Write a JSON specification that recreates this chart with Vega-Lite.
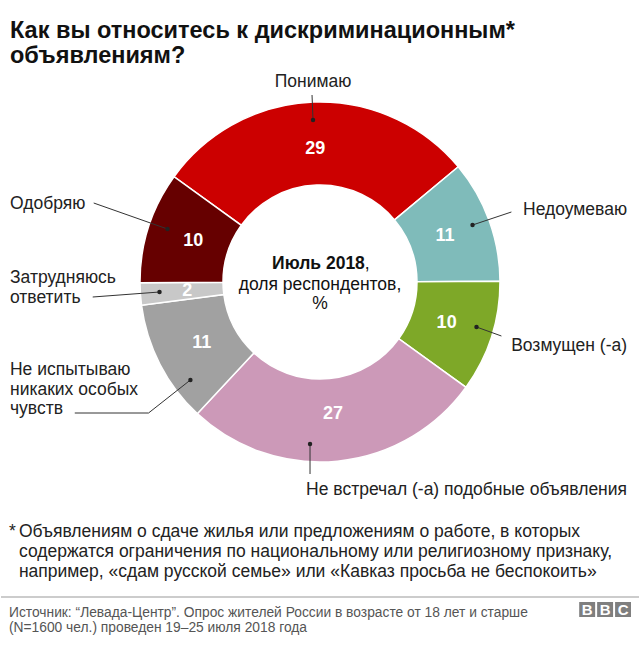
{
  "$schema": "https://vega.github.io/schema/vega-lite/v6.json",
  "width": 640,
  "height": 645,
  "padding": 0,
  "autosize": {"type": "fit", "contains": "padding"},
  "background": "white",
  "config": {"view": {"stroke": null}, "text": {"font": "Liberation Sans"}},
  "datasets": {
    "segments": [
      {"cat": "Понимаю", "value": 29, "ord": 1},
      {"cat": "Недоумеваю", "value": 11, "ord": 2},
      {"cat": "Возмущен (-а)", "value": 10, "ord": 3},
      {"cat": "Не встречал (-а) подобные объявления", "value": 27, "ord": 4},
      {"cat": "Не испытываю никаких особых чувств", "value": 11, "ord": 5},
      {"cat": "Затрудняюсь ответить", "value": 2, "ord": 6},
      {"cat": "Одобряю", "value": 10, "ord": 7}
    ],
    "labelsLeft": [
      {"t": ["Одобряю"], "x": 9, "y": 209},
      {"t": ["Затрудняюсь", "ответить"], "x": 9, "y": 283},
      {"t": ["Не испытываю", "никаких особых", "чувств"], "x": 9, "y": 375}
    ],
    "labelsRight": [
      {"t": ["Недоумеваю"], "x": 628, "y": 215},
      {"t": ["Возмущен (-а)"], "x": 628, "y": 351},
      {"t": ["Не встречал (-а) подобные объявления"], "x": 628, "y": 495}
    ],
    "labelsCenter": [
      {"t": ["Понимаю"], "x": 313, "y": 87}
    ],
    "leaders": [
      {"id": "a", "s": 1, "x": 312, "y": 95}, {"id": "a", "s": 2, "x": 313, "y": 120},
      {"id": "b", "s": 1, "x": 512, "y": 212}, {"id": "b", "s": 2, "x": 473, "y": 225},
      {"id": "c", "s": 1, "x": 502, "y": 336}, {"id": "c", "s": 2, "x": 477, "y": 327},
      {"id": "d", "s": 1, "x": 310, "y": 474}, {"id": "d", "s": 2, "x": 310, "y": 444},
      {"id": "e", "s": 1, "x": 74, "y": 413}, {"id": "e", "s": 2, "x": 148, "y": 413}, {"id": "e", "s": 3, "x": 190, "y": 380},
      {"id": "f", "s": 1, "x": 92, "y": 297}, {"id": "f", "s": 2, "x": 159, "y": 292},
      {"id": "g", "s": 1, "x": 93, "y": 203}, {"id": "g", "s": 2, "x": 167, "y": 229}
    ],
    "dots": [
      {"x": 313, "y": 120}, {"x": 473, "y": 225}, {"x": 477, "y": 327}, {"x": 310, "y": 444},
      {"x": 190, "y": 380}, {"x": 159, "y": 292}, {"x": 167, "y": 229}
    ],
    "title": [
      {"t": "Как вы относитесь к дискриминационным*", "x": 9, "y": 38},
      {"t": "объявлениям?", "x": 9, "y": 63}
    ],
    "centerBold": [{"t": "Июль 2018", "x": 365, "y": 269}],
    "centerReg": [
      {"t": ",", "x": 365, "y": 269, "a": "l"},
      {"t": "доля респондентов,", "x": 320, "y": 290, "a": "c"},
      {"t": "%", "x": 320, "y": 309, "a": "c"}
    ],
    "footnote": [
      {"t": "*", "x": 8, "y": 537},
      {"t": "Объявлениям о сдаче жилья или предложениям о работе, в которых", "x": 18, "y": 537},
      {"t": "содержатся ограничения по национальному или религиозному признаку,", "x": 18, "y": 557},
      {"t": "например, «сдам русской семье» или «Кавказ просьба не беспокоить»", "x": 18, "y": 577}
    ],
    "source": [
      {"t": "Источник: “Левада-Центр”. Опрос жителей России в возрасте от 18 лет и старше", "x": 8, "y": 617},
      {"t": "(N=1600 чел.) проведен 19–25 июля 2018 года", "x": 8, "y": 632}
    ],
    "sep": [{"x": 0, "x2": 640, "y": 597}],
    "bbcBoxes": [
      {"x": 580, "x2": 596, "y": 602, "y2": 617, "t": "B", "cx": 588},
      {"x": 598, "x2": 614, "y": 602, "y2": 617, "t": "B", "cx": 606},
      {"x": 616, "x2": 632, "y": 602, "y2": 617, "t": "C", "cx": 624}
    ]
  },
  "layer": [
    {
      "data": {"name": "segments"},
      "mark": {"type": "arc", "outerRadius": 180, "innerRadius": 97, "stroke": "white", "strokeWidth": 1.5},
      "encoding": {
        "x": {"datum": 320, "type": "quantitative", "scale": {"domain": [0, 640], "nice": false, "zero": false}, "axis": null},
        "y": {"datum": 282, "type": "quantitative", "scale": {"domain": [0, 645], "nice": false, "zero": false, "reverse": true}, "axis": null},
        "theta": {"field": "value", "type": "quantitative", "stack": true, "scale": {"range": [-0.946, 5.337]}},
        "order": {"field": "ord", "type": "quantitative"},
        "color": {
          "field": "cat", "type": "nominal", "legend": null,
          "scale": {
            "domain": ["Понимаю", "Недоумеваю", "Возмущен (-а)", "Не встречал (-а) подобные объявления", "Не испытываю никаких особых чувств", "Затрудняюсь ответить", "Одобряю"],
            "range": ["#cc0000", "#7fbbba", "#7ea828", "#cc99b8", "#a1a1a1", "#c8c8c8", "#660000"]
          }
        }
      }
    },
    {
      "data": {"name": "segments"},
      "mark": {"type": "text", "radius": 133, "color": "white", "fontWeight": "bold", "fontSize": 18, "baseline": "middle", "align": "center"},
      "encoding": {
        "x": {"datum": 320, "type": "quantitative"},
        "y": {"datum": 282, "type": "quantitative"},
        "theta": {"field": "value", "type": "quantitative", "stack": true},
        "order": {"field": "ord", "type": "quantitative"},
        "detail": {"field": "cat", "type": "nominal"},
        "text": {"field": "value", "type": "quantitative"}
      }
    },
    {
      "data": {"name": "leaders"},
      "mark": {"type": "line", "color": "#333333", "strokeWidth": 1},
      "encoding": {
        "x": {"field": "x", "type": "quantitative"},
        "y": {"field": "y", "type": "quantitative"},
        "detail": {"field": "id", "type": "nominal"},
        "order": {"field": "s", "type": "quantitative"}
      }
    },
    {
      "data": {"name": "dots"},
      "mark": {"type": "circle", "color": "#222222", "size": 20, "opacity": 1},
      "encoding": {
        "x": {"field": "x", "type": "quantitative"},
        "y": {"field": "y", "type": "quantitative"}
      }
    },
    {
      "data": {"name": "labelsLeft"},
      "mark": {"type": "text", "align": "left", "baseline": "alphabetic", "fontSize": 17.5, "lineHeight": 19.5, "color": "#222222"},
      "encoding": {
        "x": {"field": "x", "type": "quantitative"},
        "y": {"field": "y", "type": "quantitative"},
        "text": {"field": "t"}
      }
    },
    {
      "data": {"name": "labelsRight"},
      "mark": {"type": "text", "align": "right", "baseline": "alphabetic", "fontSize": 17.5, "lineHeight": 19.5, "color": "#222222"},
      "encoding": {
        "x": {"field": "x", "type": "quantitative"},
        "y": {"field": "y", "type": "quantitative"},
        "text": {"field": "t"}
      }
    },
    {
      "data": {"name": "labelsCenter"},
      "mark": {"type": "text", "align": "center", "baseline": "alphabetic", "fontSize": 17.5, "color": "#222222"},
      "encoding": {
        "x": {"field": "x", "type": "quantitative"},
        "y": {"field": "y", "type": "quantitative"},
        "text": {"field": "t"}
      }
    },
    {
      "data": {"name": "title"},
      "mark": {"type": "text", "align": "left", "baseline": "alphabetic", "fontSize": 23.5, "fontWeight": "bold", "color": "#111111"},
      "encoding": {
        "x": {"field": "x", "type": "quantitative"},
        "y": {"field": "y", "type": "quantitative"},
        "text": {"field": "t"}
      }
    },
    {
      "data": {"name": "centerBold"},
      "mark": {"type": "text", "align": "right", "baseline": "alphabetic", "fontSize": 17.5, "fontWeight": "bold", "color": "#111111"},
      "encoding": {
        "x": {"field": "x", "type": "quantitative"},
        "y": {"field": "y", "type": "quantitative"},
        "text": {"field": "t"}
      }
    },
    {
      "data": {"name": "centerReg"},
      "transform": [{"filter": "datum.a == 'l'"}],
      "mark": {"type": "text", "align": "left", "baseline": "alphabetic", "fontSize": 17.5, "color": "#111111"},
      "encoding": {
        "x": {"field": "x", "type": "quantitative"},
        "y": {"field": "y", "type": "quantitative"},
        "text": {"field": "t"}
      }
    },
    {
      "data": {"name": "centerReg"},
      "transform": [{"filter": "datum.a == 'c'"}],
      "mark": {"type": "text", "align": "center", "baseline": "alphabetic", "fontSize": 17.5, "color": "#111111"},
      "encoding": {
        "x": {"field": "x", "type": "quantitative"},
        "y": {"field": "y", "type": "quantitative"},
        "text": {"field": "t"}
      }
    },
    {
      "data": {"name": "footnote"},
      "mark": {"type": "text", "align": "left", "baseline": "alphabetic", "fontSize": 17.5, "color": "#222222"},
      "encoding": {
        "x": {"field": "x", "type": "quantitative"},
        "y": {"field": "y", "type": "quantitative"},
        "text": {"field": "t"}
      }
    },
    {
      "data": {"name": "sep"},
      "mark": {"type": "rule", "color": "#999999", "strokeWidth": 1},
      "encoding": {
        "x": {"field": "x", "type": "quantitative"},
        "x2": {"field": "x2"},
        "y": {"field": "y", "type": "quantitative"}
      }
    },
    {
      "data": {"name": "source"},
      "mark": {"type": "text", "align": "left", "baseline": "alphabetic", "fontSize": 13.8, "color": "#555555"},
      "encoding": {
        "x": {"field": "x", "type": "quantitative"},
        "y": {"field": "y", "type": "quantitative"},
        "text": {"field": "t"}
      }
    },
    {
      "data": {"name": "bbcBoxes"},
      "mark": {"type": "rect", "color": "#7f7f7f"},
      "encoding": {
        "x": {"field": "x", "type": "quantitative"},
        "x2": {"field": "x2"},
        "y": {"field": "y", "type": "quantitative"},
        "y2": {"field": "y2"}
      }
    },
    {
      "data": {"name": "bbcBoxes"},
      "mark": {"type": "text", "align": "center", "baseline": "middle", "fontSize": 15, "fontWeight": "bold", "color": "white", "dy": 8},
      "encoding": {
        "x": {"field": "cx", "type": "quantitative"},
        "y": {"field": "y", "type": "quantitative"},
        "text": {"field": "t"}
      }
    }
  ]
}
